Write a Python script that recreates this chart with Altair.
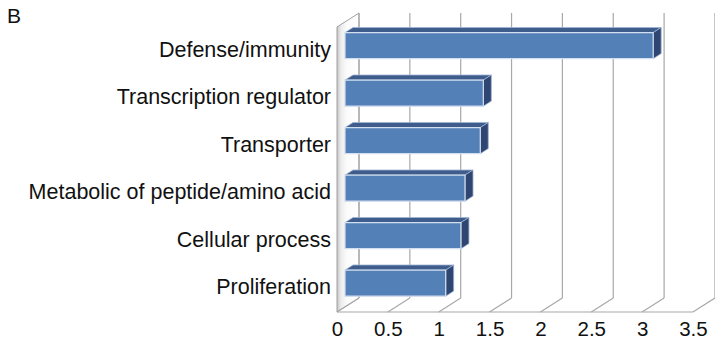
import altair as alt
import pandas as pd

# ---- data -------------------------------------------------------------
categories = [
    "Defense/immunity",
    "Transcription regulator",
    "Transporter",
    "Metabolic of peptide/amino acid",
    "Cellular process",
    "Proliferation",
]
values = [3.03, 1.36, 1.33, 1.18, 1.14, 0.99]
ticks = [0, 0.5, 1, 1.5, 2, 2.5, 3, 3.5]

# ---- layout / oblique projection -------------------------------------
W, H = 715, 312            # plot area (floor front edge at the bottom)
PX_PER_UNIT = 101.7        # pixels per value unit
ORIGIN_X = 337             # pixel position of value 0 on the front plane
TOP_Y = 27                 # pixel position of the wall top on the front plane
SLOT = (H - TOP_Y) / len(categories)

DEPTH_X = 22 / PX_PER_UNIT  # value units shifted for a full depth step
DEPTH_Y = 14 / SLOT         # category slots shifted upward for a full depth step
BAR_Z0, BAR_Z1 = 0.364, 0.728
HALF = 0.275                # half bar height in slots

x_dom = [-ORIGIN_X / PX_PER_UNIT, (W - ORIGIN_X) / PX_PER_UNIT]
y_dom = [-TOP_Y / SLOT, (H - TOP_Y) / SLOT]
n = len(categories)

xs = alt.Scale(domain=x_dom, nice=False, zero=False)
ys = alt.Scale(domain=y_dom, nice=False, zero=False, reverse=True)
x_axis = alt.Axis(values=ticks, format=".1~f", domain=False, ticks=False, grid=False,
                  labelFontSize=20.5, labelFont="Liberation Sans", labelColor="#111111",
                  labelPadding=7, labelFlush=False, labelOverlap=False, title=None)


def X(field):
    return alt.X(field, type="quantitative", scale=xs, axis=x_axis)


def Y(field):
    return alt.Y(field, type="quantitative", scale=ys, axis=None)


# ---- frame: left wall, back-wall gridlines, floor ---------------------
wall = pd.DataFrame({
    "x": [0.0, DEPTH_X],
    "y": [0.0, -DEPTH_Y],
    "y2": [float(n), n - DEPTH_Y],
})
wall_layer = alt.Chart(wall).mark_area(
    orient="vertical",
    color=alt.Gradient(gradient="linear", x1=0, x2=1, y1=0, y2=0,
                       stops=[alt.GradientStop(color="#c4c4c4", offset=0),
                              alt.GradientStop(color="#ececec", offset=0.18),
                              alt.GradientStop(color="#fbfbfb", offset=0.45),
                              alt.GradientStop(color="#ffffff", offset=1)]),
    stroke="#a0a0a0", strokeWidth=1,
).encode(x=X("x"), y=Y("y"), y2="y2")

grid = pd.DataFrame({"t": ticks})
grid["xb"] = grid["t"] + DEPTH_X
grid["top"] = -DEPTH_Y
grid["bottom"] = n - DEPTH_Y
grid["front"] = float(n)
grid_layer = alt.Chart(grid).mark_rule(color="#a8a8a8", strokeWidth=1.2).encode(
    x=X("xb"), y=Y("top"), y2="bottom")
diag_layer = alt.Chart(grid).mark_rule(color="#a8a8a8", strokeWidth=1.2).encode(
    x=X("t"), x2="xb", y=Y("front"), y2="bottom")

floor = pd.DataFrame({"x0": [ticks[0]], "x1": [ticks[-1]], "y": [float(n)]})
floor_layer = alt.Chart(floor).mark_rule(color="#a8a8a8", strokeWidth=1.2).encode(
    x=X("x0"), x2="x1", y=Y("y"))

# ---- bars ------------------------------------------------------------
bars = pd.DataFrame({"name": categories, "v": values, "i": range(n)})
bars["x0"] = BAR_Z0 * DEPTH_X
bars["x1"] = bars["v"] + bars["x0"]
bars["yc"] = bars["i"] + 0.5 - BAR_Z0 * DEPTH_Y
bars["ytop"] = bars["yc"] - HALF
bars["ybot"] = bars["yc"] + HALF
shift_x = (BAR_Z1 - BAR_Z0) * DEPTH_X
shift_y = (BAR_Z1 - BAR_Z0) * DEPTH_Y

top_rows, side_rows = [], []
for _, r in bars.iterrows():
    top_rows.append({"name": r["name"], "y": r["ytop"], "x": r["x0"], "x2": r["x1"]})
    top_rows.append({"name": r["name"], "y": r["ytop"] - shift_y,
                     "x": r["x0"] + shift_x, "x2": r["x1"] + shift_x})
    side_rows.append({"name": r["name"], "x": r["x1"], "y": r["ytop"], "y2": r["ybot"]})
    side_rows.append({"name": r["name"], "x": r["x1"] + shift_x,
                      "y": r["ytop"] - shift_y, "y2": r["ybot"] - shift_y})
top_df = pd.DataFrame(top_rows)
side_df = pd.DataFrame(side_rows)

top_layer = alt.Chart(top_df).mark_area(
    orient="horizontal", color="#3e5d8c", stroke="#9fb4d3", strokeWidth=0.8
).encode(y=Y("y"), x=X("x"), x2="x2", detail="name:N")

side_layer = alt.Chart(side_df).mark_area(
    orient="vertical", color="#2f4672", stroke="#9fb4d3", strokeWidth=0.8
).encode(x=X("x"), y=Y("y"), y2="y2", detail="name:N")

front_layer = alt.Chart(bars).mark_rect(
    color="#5480b8", stroke="#d3deee", strokeWidth=1.2
).encode(x=X("x0"), x2="x1", y=Y("ytop"), y2="ybot")

# ---- category labels and panel letter --------------------------------
labels = pd.DataFrame({"name": categories, "u": [i + 0.5 for i in range(n)]})
label_layer = alt.Chart(labels).mark_text(
    align="right", baseline="middle", fontSize=21.5, font="Liberation Sans", color="#111111"
).encode(x=alt.value(331), y=Y("u"), text="name:N")

panel = pd.DataFrame({"t": ["B"]})
panel_layer = alt.Chart(panel).mark_text(
    align="left", baseline="middle", fontSize=21, font="Liberation Sans", color="#111111"
).encode(x=alt.value(7), y=alt.value(17), text="t:N")

chart = alt.layer(
    wall_layer, grid_layer, diag_layer, floor_layer,
    top_layer, side_layer, front_layer,
    label_layer, panel_layer,
).properties(
    width=W, height=H,
    autosize=alt.AutoSizeParams(type="none"),
    padding={"left": 0, "top": 0, "right": 0, "bottom": 343 - H},
    background="white",
).configure_view(stroke=None)

chart.save("out.html", embed_options={"renderer": "svg", "actions": False})
